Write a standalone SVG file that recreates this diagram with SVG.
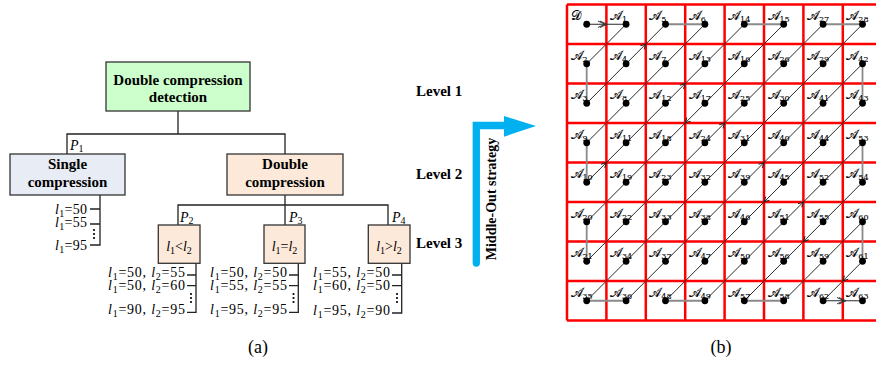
<svg xmlns="http://www.w3.org/2000/svg" width="876" height="367" viewBox="0 0 876 367">
<defs>
<style>
.t{font-family:"Liberation Serif",serif;font-size:14px;fill:#000}
.b{font-weight:bold;font-size:15px}
.i{font-style:italic}
.s{font-size:10px}
.cap{font-size:18px}
.box{stroke:#333;stroke-width:1.3}
.ln{fill:none;stroke:#222;stroke-width:1.3}
.cell text{font-family:"DejaVu Serif","DejaVu Sans","Noto Sans",serif;font-size:13px;fill:#000;stroke:#000;stroke-width:0.15}
.cell tspan{font-size:8px;stroke-width:0.1}
.cell circle{fill:#000}
.red{stroke:#ff0000;stroke-width:2.5;fill:none}
.gray{stroke:#8a8a8a;stroke-width:1.8;fill:none}
.dk{stroke:#2a2a2a;stroke-width:1;fill:none}
</style>
<path id="ah" d="M-5,-2.6 L0,0 L-5,2.6" fill="none" stroke="#222" stroke-width="1"/>
<path id="ahb" d="M-7,-3.2 L0,0 L-7,3.2 M-9,-3.2 L-2,0 L-9,3.2" fill="none" stroke="#333" stroke-width="1"/>
</defs>
<rect width="876" height="367" fill="#fff"/>

<!-- (a) tree -->
<g id="connectors-a" class="ln">
<path d="M178,111 V134 M67,154 V134 H285 V154"/>
<path d="M100,195 V245 H90 M90,209 H100 M90,224 H100"/>
<path d="M285,195 V205 M178,225 V205 H388 V225 M285,205 V225"/>
<path d="M196,263 V312.3 H187 M187,275 H196 M187,285.7 H196"/>
<path d="M298.3,263 V312.3 H289 M289,275 H298.3 M289,285.7 H298.3"/>
<path d="M401.7,263 V313 H392 M392,275 H401.7 M392,285.7 H401.7"/>
</g>
<g id="root">
<rect class="box" x="106" y="62" width="144" height="49" fill="#ccffcc"/>
<text class="t b" x="178" y="84.5" text-anchor="middle">Double compression</text>
<text class="t b" x="178" y="102" text-anchor="middle">detection</text>
</g>
<g id="single">
<rect class="box" x="10" y="154" width="115" height="41" fill="#e8ecf5"/>
<text class="t b" x="67.5" y="168.5" text-anchor="middle">Single</text>
<text class="t b" x="67.5" y="187" text-anchor="middle">compression</text>
</g>
<g id="double">
<rect class="box" x="227" y="154" width="116" height="41" fill="#fde9d9"/>
<text class="t b" x="285" y="168.5" text-anchor="middle">Double</text>
<text class="t b" x="285" y="187" text-anchor="middle">compression</text>
</g>
<g id="labels-p" class="t">
<text x="70" y="150"><tspan class="i">P</tspan><tspan class="s" dy="2">1</tspan></text>
<text x="180" y="221.5"><tspan class="i">P</tspan><tspan class="s" dy="2">2</tspan></text>
<text x="289" y="221.5"><tspan class="i">P</tspan><tspan class="s" dy="2">3</tspan></text>
<text x="392" y="221.5"><tspan class="i">P</tspan><tspan class="s" dy="2">4</tspan></text>
</g>
<g id="single-list" class="t">
<text x="87" y="214" text-anchor="end" textLength="32"><tspan class="i">l</tspan><tspan class="s" dy="3">1</tspan><tspan dy="-3">=50</tspan></text>
<text x="87" y="227" text-anchor="end" textLength="32"><tspan class="i">l</tspan><tspan class="s" dy="3">1</tspan><tspan dy="-3">=55</tspan></text>
<text x="87" y="250" text-anchor="end" textLength="32"><tspan class="i">l</tspan><tspan class="s" dy="3">1</tspan><tspan dy="-3">=95</tspan></text>
<circle cx="94" cy="230" r="1.1"/><circle cx="94" cy="234" r="1.1"/><circle cx="94" cy="238" r="1.1"/>
</g>
<g id="lt">
<rect class="box" x="158.3" y="225" width="41.7" height="38.3" fill="#fde9d9"/>
<text class="t" x="179" y="251" text-anchor="middle"><tspan class="i">l</tspan><tspan class="s" dy="3">1</tspan><tspan dy="-3">&lt;</tspan><tspan class="i">l</tspan><tspan class="s" dy="3">2</tspan></text>
</g>
<g id="eq">
<rect class="box" x="264" y="225" width="41" height="38.3" fill="#fde9d9"/>
<text class="t" x="284.5" y="251" text-anchor="middle"><tspan class="i">l</tspan><tspan class="s" dy="3">1</tspan><tspan dy="-3">=</tspan><tspan class="i">l</tspan><tspan class="s" dy="3">2</tspan></text>
</g>
<g id="gt">
<rect class="box" x="368.3" y="225" width="41.7" height="38.3" fill="#fde9d9"/>
<text class="t" x="389" y="251" text-anchor="middle"><tspan class="i">l</tspan><tspan class="s" dy="3">1</tspan><tspan dy="-3">&gt;</tspan><tspan class="i">l</tspan><tspan class="s" dy="3">2</tspan></text>
</g>
<g id="list-lt" class="t" text-anchor="end">
<text x="185" y="277" textLength="77"><tspan class="i">l</tspan><tspan class="s" dy="3">1</tspan><tspan dy="-3">=50, </tspan><tspan class="i">l</tspan><tspan class="s" dy="3">2</tspan><tspan dy="-3">=55</tspan></text>
<text x="185" y="289.5" textLength="77"><tspan class="i">l</tspan><tspan class="s" dy="3">1</tspan><tspan dy="-3">=50, </tspan><tspan class="i">l</tspan><tspan class="s" dy="3">2</tspan><tspan dy="-3">=60</tspan></text>
<text x="185" y="314" textLength="77"><tspan class="i">l</tspan><tspan class="s" dy="3">1</tspan><tspan dy="-3">=90, </tspan><tspan class="i">l</tspan><tspan class="s" dy="3">2</tspan><tspan dy="-3">=95</tspan></text>
<circle cx="191" cy="294" r="1.1"/><circle cx="191" cy="298" r="1.1"/><circle cx="191" cy="302" r="1.1"/>
</g>
<g id="list-eq" class="t" text-anchor="end">
<text x="287" y="277" textLength="77"><tspan class="i">l</tspan><tspan class="s" dy="3">1</tspan><tspan dy="-3">=50, </tspan><tspan class="i">l</tspan><tspan class="s" dy="3">2</tspan><tspan dy="-3">=50</tspan></text>
<text x="287" y="289.5" textLength="77"><tspan class="i">l</tspan><tspan class="s" dy="3">1</tspan><tspan dy="-3">=55, </tspan><tspan class="i">l</tspan><tspan class="s" dy="3">2</tspan><tspan dy="-3">=55</tspan></text>
<text x="287" y="314" textLength="77"><tspan class="i">l</tspan><tspan class="s" dy="3">1</tspan><tspan dy="-3">=95, </tspan><tspan class="i">l</tspan><tspan class="s" dy="3">2</tspan><tspan dy="-3">=95</tspan></text>
<circle cx="293.5" cy="294" r="1.1"/><circle cx="293.5" cy="298" r="1.1"/><circle cx="293.5" cy="302" r="1.1"/>
</g>
<g id="list-gt" class="t" text-anchor="end">
<text x="390" y="277" textLength="77"><tspan class="i">l</tspan><tspan class="s" dy="3">1</tspan><tspan dy="-3">=55, </tspan><tspan class="i">l</tspan><tspan class="s" dy="3">2</tspan><tspan dy="-3">=50</tspan></text>
<text x="390" y="289.5" textLength="77"><tspan class="i">l</tspan><tspan class="s" dy="3">1</tspan><tspan dy="-3">=60, </tspan><tspan class="i">l</tspan><tspan class="s" dy="3">2</tspan><tspan dy="-3">=50</tspan></text>
<text x="390" y="315" textLength="77"><tspan class="i">l</tspan><tspan class="s" dy="3">1</tspan><tspan dy="-3">=95, </tspan><tspan class="i">l</tspan><tspan class="s" dy="3">2</tspan><tspan dy="-3">=90</tspan></text>
<circle cx="397" cy="294" r="1.1"/><circle cx="397" cy="298" r="1.1"/><circle cx="397" cy="302" r="1.1"/>
</g>
<g id="levels" class="t b">
<text x="416" y="96">Level 1</text>
<text x="416" y="179">Level 2</text>
<text x="416" y="248">Level 3</text>
</g>
<g id="middle-out">
<path d="M476.3,263 V125.5 H506" fill="none" stroke="#00b0f0" stroke-width="7.3" stroke-linecap="round"/>
<polygon points="504,116 536,126 504,136.7" fill="#00b0f0"/>
<text class="t" font-weight="bold" x="0" y="0" transform="translate(496,199) rotate(-90)" text-anchor="middle">Middle-Out strategy</text>
</g>
<text class="t cap" x="258" y="353" text-anchor="middle">(a)</text>
<text class="t cap" x="721" y="353" text-anchor="middle">(b)</text>

<!-- (b) grid -->
<g id="grid" class="red">
<path d="M567,4.5 V320.5 M606.4,4.5 V320.5 M645.8,4.5 V320.5 M685.2,4.5 V320.5 M724.6,4.5 V320.5 M764,4.5 V320.5 M803.4,4.5 V320.5 M842.8,4.5 V320.5 M882.2,4.5 V320.5"/>
<path d="M567,4.5 H882 M567,44 H882 M567,83.5 H882 M567,123 H882 M567,162.5 H882 M567,202 H882 M567,241.5 H882 M567,281 H882 M567,320.5 H882"/>
</g>
<g id="connectors-b">
<path class="gray" d="M586.7,63.75 V103.25 M665.5,24.25 H704.9 M586.7,142.75 V182.25 M744.3,24.25 H783.7 M586.7,221.75 V261.25 M823.1,24.25 H862.5 M586.7,300.75 H626.1 M862.5,63.75 V103.25 M665.5,300.75 H704.9 M862.5,142.75 V182.25 M744.3,300.75 H783.7 M862.5,221.75 V261.25"/>
<path class="dk" stroke="#333" d="M586.7,24.25 H626.1 M823.1,300.75 H862.5"/>
<path class="dk" d="M626.1,24.25 L586.7,63.75 M586.7,103.25 L665.5,24.25 M704.9,24.25 L586.7,142.75 M586.7,182.25 L744.3,24.25 M783.7,24.25 L586.7,221.75 M586.7,261.25 L823.1,24.25 M862.5,24.25 L586.7,300.75 M626.1,300.75 L862.5,63.75 M862.5,103.25 L665.5,300.75 M704.9,300.75 L862.5,142.75 M862.5,182.25 L744.3,300.75 M783.7,300.75 L862.5,221.75 M862.5,261.25 L823.1,300.75"/>
<use href="#ahb" transform="translate(607,24.25)"/>
<use href="#ahb" transform="translate(846,300.75)"/>
<use href="#ah" transform="translate(645.8,44) rotate(-45)"/>
<use href="#ah" transform="translate(606.4,162.5) rotate(-45)"/>
<use href="#ah" transform="translate(685.2,83.5) rotate(-45)"/>
<use href="#ah" transform="translate(685.2,123) rotate(135)"/>
<use href="#ah" transform="translate(724.6,123) rotate(-45)"/>
<use href="#ah" transform="translate(764,162.5) rotate(-45)"/>
<use href="#ah" transform="translate(764,202) rotate(135)"/>
<use href="#ah" transform="translate(803.4,202) rotate(-45)"/>
<use href="#ah" transform="translate(803.4,241.5) rotate(135)"/>
<use href="#ah" transform="translate(842.8,281) rotate(135)"/>
</g>
<g id="cells">
<g id="D" class="cell" transform="translate(567 4.5)"><text x="3.5" y="15.5">𝒟</text><circle cx="19.7" cy="19.75" r="3.4"/></g>
<g id="A1" class="cell" transform="translate(606.4 4.5)"><text x="3.5" y="15.5">𝒜<tspan dy="2">1</tspan></text><circle cx="19.7" cy="19.75" r="3.4"/></g>
<g id="A5" class="cell" transform="translate(645.8 4.5)"><text x="3.5" y="15.5">𝒜<tspan dy="2">5</tspan></text><circle cx="19.7" cy="19.75" r="3.4"/></g>
<g id="A6" class="cell" transform="translate(685.2 4.5)"><text x="3.5" y="15.5">𝒜<tspan dy="2">6</tspan></text><circle cx="19.7" cy="19.75" r="3.4"/></g>
<g id="A14" class="cell" transform="translate(724.6 4.5)"><text x="3.5" y="15.5">𝒜<tspan dy="2">14</tspan></text><circle cx="19.7" cy="19.75" r="3.4"/></g>
<g id="A15" class="cell" transform="translate(764 4.5)"><text x="3.5" y="15.5">𝒜<tspan dy="2">15</tspan></text><circle cx="19.7" cy="19.75" r="3.4"/></g>
<g id="A27" class="cell" transform="translate(803.4 4.5)"><text x="3.5" y="15.5">𝒜<tspan dy="2">27</tspan></text><circle cx="19.7" cy="19.75" r="3.4"/></g>
<g id="A28" class="cell" transform="translate(842.8 4.5)"><text x="3.5" y="15.5">𝒜<tspan dy="2">28</tspan></text><circle cx="19.7" cy="19.75" r="3.4"/></g>

<g id="A2" class="cell" transform="translate(567 44)"><text x="3.5" y="15.5">𝒜<tspan dy="2">2</tspan></text><circle cx="19.7" cy="19.75" r="3.4"/></g>
<g id="A4" class="cell" transform="translate(606.4 44)"><text x="3.5" y="15.5">𝒜<tspan dy="2">4</tspan></text><circle cx="19.7" cy="19.75" r="3.4"/></g>
<g id="A7" class="cell" transform="translate(645.8 44)"><text x="3.5" y="15.5">𝒜<tspan dy="2">7</tspan></text><circle cx="19.7" cy="19.75" r="3.4"/></g>
<g id="A13" class="cell" transform="translate(685.2 44)"><text x="3.5" y="15.5">𝒜<tspan dy="2">13</tspan></text><circle cx="19.7" cy="19.75" r="3.4"/></g>
<g id="A16" class="cell" transform="translate(724.6 44)"><text x="3.5" y="15.5">𝒜<tspan dy="2">16</tspan></text><circle cx="19.7" cy="19.75" r="3.4"/></g>
<g id="A26" class="cell" transform="translate(764 44)"><text x="3.5" y="15.5">𝒜<tspan dy="2">26</tspan></text><circle cx="19.7" cy="19.75" r="3.4"/></g>
<g id="A29" class="cell" transform="translate(803.4 44)"><text x="3.5" y="15.5">𝒜<tspan dy="2">29</tspan></text><circle cx="19.7" cy="19.75" r="3.4"/></g>
<g id="A42" class="cell" transform="translate(842.8 44)"><text x="3.5" y="15.5">𝒜<tspan dy="2">42</tspan></text><circle cx="19.7" cy="19.75" r="3.4"/></g>

<g id="A3" class="cell" transform="translate(567 83.5)"><text x="3.5" y="15.5">𝒜<tspan dy="2">3</tspan></text><circle cx="19.7" cy="19.75" r="3.4"/></g>
<g id="A8" class="cell" transform="translate(606.4 83.5)"><text x="3.5" y="15.5">𝒜<tspan dy="2">8</tspan></text><circle cx="19.7" cy="19.75" r="3.4"/></g>
<g id="A12" class="cell" transform="translate(645.8 83.5)"><text x="3.5" y="15.5">𝒜<tspan dy="2">12</tspan></text><circle cx="19.7" cy="19.75" r="3.4"/></g>
<g id="A17" class="cell" transform="translate(685.2 83.5)"><text x="3.5" y="15.5">𝒜<tspan dy="2">17</tspan></text><circle cx="19.7" cy="19.75" r="3.4"/></g>
<g id="A25" class="cell" transform="translate(724.6 83.5)"><text x="3.5" y="15.5">𝒜<tspan dy="2">25</tspan></text><circle cx="19.7" cy="19.75" r="3.4"/></g>
<g id="A30" class="cell" transform="translate(764 83.5)"><text x="3.5" y="15.5">𝒜<tspan dy="2">30</tspan></text><circle cx="19.7" cy="19.75" r="3.4"/></g>
<g id="A41" class="cell" transform="translate(803.4 83.5)"><text x="3.5" y="15.5">𝒜<tspan dy="2">41</tspan></text><circle cx="19.7" cy="19.75" r="3.4"/></g>
<g id="A43" class="cell" transform="translate(842.8 83.5)"><text x="3.5" y="15.5">𝒜<tspan dy="2">43</tspan></text><circle cx="19.7" cy="19.75" r="3.4"/></g>

<g id="A9" class="cell" transform="translate(567 123)"><text x="3.5" y="15.5">𝒜<tspan dy="2">9</tspan></text><circle cx="19.7" cy="19.75" r="3.4"/></g>
<g id="A11" class="cell" transform="translate(606.4 123)"><text x="3.5" y="15.5">𝒜<tspan dy="2">11</tspan></text><circle cx="19.7" cy="19.75" r="3.4"/></g>
<g id="A18" class="cell" transform="translate(645.8 123)"><text x="3.5" y="15.5">𝒜<tspan dy="2">18</tspan></text><circle cx="19.7" cy="19.75" r="3.4"/></g>
<g id="A24" class="cell" transform="translate(685.2 123)"><text x="3.5" y="15.5">𝒜<tspan dy="2">24</tspan></text><circle cx="19.7" cy="19.75" r="3.4"/></g>
<g id="A31" class="cell" transform="translate(724.6 123)"><text x="3.5" y="15.5">𝒜<tspan dy="2">31</tspan></text><circle cx="19.7" cy="19.75" r="3.4"/></g>
<g id="A40" class="cell" transform="translate(764 123)"><text x="3.5" y="15.5">𝒜<tspan dy="2">40</tspan></text><circle cx="19.7" cy="19.75" r="3.4"/></g>
<g id="A44" class="cell" transform="translate(803.4 123)"><text x="3.5" y="15.5">𝒜<tspan dy="2">44</tspan></text><circle cx="19.7" cy="19.75" r="3.4"/></g>
<g id="A53" class="cell" transform="translate(842.8 123)"><text x="3.5" y="15.5">𝒜<tspan dy="2">53</tspan></text><circle cx="19.7" cy="19.75" r="3.4"/></g>

<g id="A10" class="cell" transform="translate(567 162.5)"><text x="3.5" y="15.5">𝒜<tspan dy="2">10</tspan></text><circle cx="19.7" cy="19.75" r="3.4"/></g>
<g id="A19" class="cell" transform="translate(606.4 162.5)"><text x="3.5" y="15.5">𝒜<tspan dy="2">19</tspan></text><circle cx="19.7" cy="19.75" r="3.4"/></g>
<g id="A23" class="cell" transform="translate(645.8 162.5)"><text x="3.5" y="15.5">𝒜<tspan dy="2">23</tspan></text><circle cx="19.7" cy="19.75" r="3.4"/></g>
<g id="A32" class="cell" transform="translate(685.2 162.5)"><text x="3.5" y="15.5">𝒜<tspan dy="2">32</tspan></text><circle cx="19.7" cy="19.75" r="3.4"/></g>
<g id="A39" class="cell" transform="translate(724.6 162.5)"><text x="3.5" y="15.5">𝒜<tspan dy="2">39</tspan></text><circle cx="19.7" cy="19.75" r="3.4"/></g>
<g id="A45" class="cell" transform="translate(764 162.5)"><text x="3.5" y="15.5">𝒜<tspan dy="2">45</tspan></text><circle cx="19.7" cy="19.75" r="3.4"/></g>
<g id="A52" class="cell" transform="translate(803.4 162.5)"><text x="3.5" y="15.5">𝒜<tspan dy="2">52</tspan></text><circle cx="19.7" cy="19.75" r="3.4"/></g>
<g id="A54" class="cell" transform="translate(842.8 162.5)"><text x="3.5" y="15.5">𝒜<tspan dy="2">54</tspan></text><circle cx="19.7" cy="19.75" r="3.4"/></g>

<g id="A20" class="cell" transform="translate(567 202)"><text x="3.5" y="15.5">𝒜<tspan dy="2">20</tspan></text><circle cx="19.7" cy="19.75" r="3.4"/></g>
<g id="A22" class="cell" transform="translate(606.4 202)"><text x="3.5" y="15.5">𝒜<tspan dy="2">22</tspan></text><circle cx="19.7" cy="19.75" r="3.4"/></g>
<g id="A33" class="cell" transform="translate(645.8 202)"><text x="3.5" y="15.5">𝒜<tspan dy="2">33</tspan></text><circle cx="19.7" cy="19.75" r="3.4"/></g>
<g id="A38" class="cell" transform="translate(685.2 202)"><text x="3.5" y="15.5">𝒜<tspan dy="2">38</tspan></text><circle cx="19.7" cy="19.75" r="3.4"/></g>
<g id="A46" class="cell" transform="translate(724.6 202)"><text x="3.5" y="15.5">𝒜<tspan dy="2">46</tspan></text><circle cx="19.7" cy="19.75" r="3.4"/></g>
<g id="A51" class="cell" transform="translate(764 202)"><text x="3.5" y="15.5">𝒜<tspan dy="2">51</tspan></text><circle cx="19.7" cy="19.75" r="3.4"/></g>
<g id="A55" class="cell" transform="translate(803.4 202)"><text x="3.5" y="15.5">𝒜<tspan dy="2">55</tspan></text><circle cx="19.7" cy="19.75" r="3.4"/></g>
<g id="A60" class="cell" transform="translate(842.8 202)"><text x="3.5" y="15.5">𝒜<tspan dy="2">60</tspan></text><circle cx="19.7" cy="19.75" r="3.4"/></g>

<g id="A21" class="cell" transform="translate(567 241.5)"><text x="3.5" y="15.5">𝒜<tspan dy="2">21</tspan></text><circle cx="19.7" cy="19.75" r="3.4"/></g>
<g id="A34" class="cell" transform="translate(606.4 241.5)"><text x="3.5" y="15.5">𝒜<tspan dy="2">34</tspan></text><circle cx="19.7" cy="19.75" r="3.4"/></g>
<g id="A37" class="cell" transform="translate(645.8 241.5)"><text x="3.5" y="15.5">𝒜<tspan dy="2">37</tspan></text><circle cx="19.7" cy="19.75" r="3.4"/></g>
<g id="A47" class="cell" transform="translate(685.2 241.5)"><text x="3.5" y="15.5">𝒜<tspan dy="2">47</tspan></text><circle cx="19.7" cy="19.75" r="3.4"/></g>
<g id="A50" class="cell" transform="translate(724.6 241.5)"><text x="3.5" y="15.5">𝒜<tspan dy="2">50</tspan></text><circle cx="19.7" cy="19.75" r="3.4"/></g>
<g id="A56" class="cell" transform="translate(764 241.5)"><text x="3.5" y="15.5">𝒜<tspan dy="2">56</tspan></text><circle cx="19.7" cy="19.75" r="3.4"/></g>
<g id="A59" class="cell" transform="translate(803.4 241.5)"><text x="3.5" y="15.5">𝒜<tspan dy="2">59</tspan></text><circle cx="19.7" cy="19.75" r="3.4"/></g>
<g id="A61" class="cell" transform="translate(842.8 241.5)"><text x="3.5" y="15.5">𝒜<tspan dy="2">61</tspan></text><circle cx="19.7" cy="19.75" r="3.4"/></g>

<g id="A35" class="cell" transform="translate(567 281)"><text x="3.5" y="15.5">𝒜<tspan dy="2">35</tspan></text><circle cx="19.7" cy="19.75" r="3.4"/></g>
<g id="A36" class="cell" transform="translate(606.4 281)"><text x="3.5" y="15.5">𝒜<tspan dy="2">36</tspan></text><circle cx="19.7" cy="19.75" r="3.4"/></g>
<g id="A48" class="cell" transform="translate(645.8 281)"><text x="3.5" y="15.5">𝒜<tspan dy="2">48</tspan></text><circle cx="19.7" cy="19.75" r="3.4"/></g>
<g id="A49" class="cell" transform="translate(685.2 281)"><text x="3.5" y="15.5">𝒜<tspan dy="2">49</tspan></text><circle cx="19.7" cy="19.75" r="3.4"/></g>
<g id="A57" class="cell" transform="translate(724.6 281)"><text x="3.5" y="15.5">𝒜<tspan dy="2">57</tspan></text><circle cx="19.7" cy="19.75" r="3.4"/></g>
<g id="A58" class="cell" transform="translate(764 281)"><text x="3.5" y="15.5">𝒜<tspan dy="2">58</tspan></text><circle cx="19.7" cy="19.75" r="3.4"/></g>
<g id="A62" class="cell" transform="translate(803.4 281)"><text x="3.5" y="15.5">𝒜<tspan dy="2">62</tspan></text><circle cx="19.7" cy="19.75" r="3.4"/></g>
<g id="A63" class="cell" transform="translate(842.8 281)"><text x="3.5" y="15.5">𝒜<tspan dy="2">63</tspan></text><circle cx="19.7" cy="19.75" r="3.4"/></g>
</g>
</svg>
